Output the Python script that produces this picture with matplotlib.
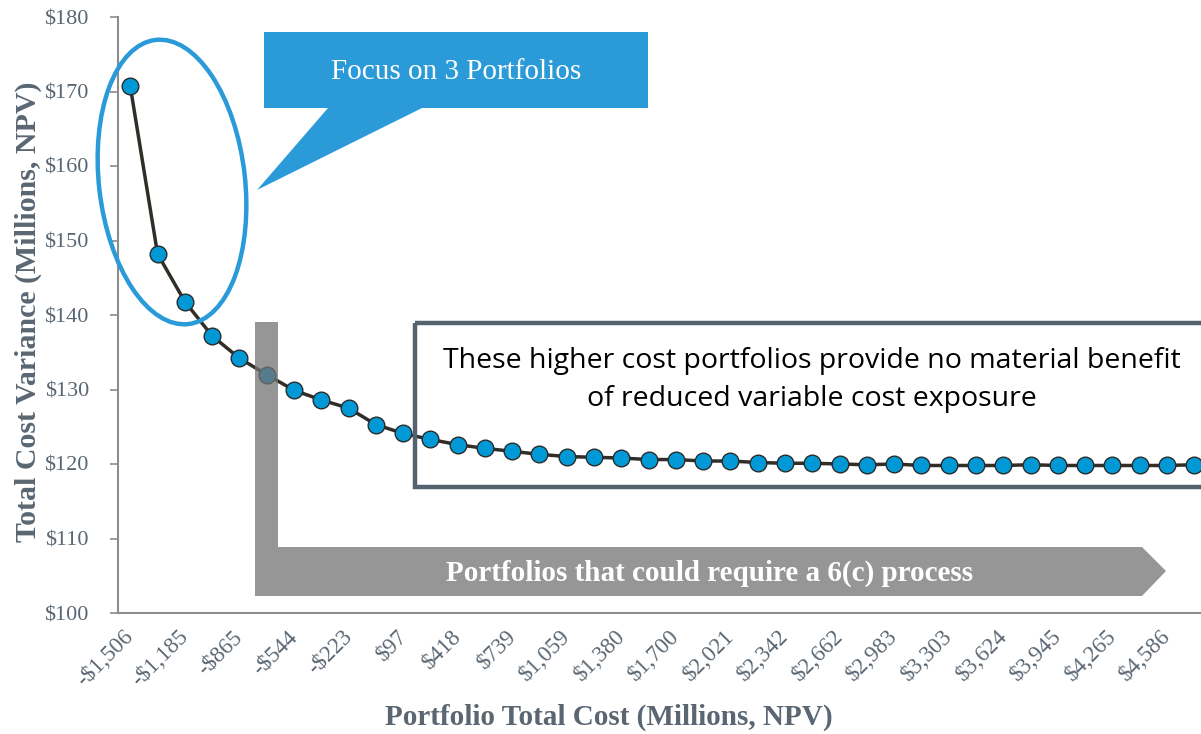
import numpy as np
import matplotlib
matplotlib.use("Agg")
from matplotlib import pyplot as plt
from matplotlib.patches import Polygon, Ellipse, Rectangle

# portfolio total cost (tick labels, every other portfolio)
cost_labels = ["-$1,506", "-$1,185", "-$865", "-$544", "-$223", "$97", "$418", "$739",
               "$1,059", "$1,380", "$1,700", "$2,021", "$2,342", "$2,662", "$2,983",
               "$3,303", "$3,624", "$3,945", "$4,265", "$4,586"]

# total cost variance per portfolio (millions, NPV)
variance = [170.7, 148.2, 141.8, 137.2, 134.2, 132.0, 129.9, 128.6, 127.5, 125.3,
            124.1, 123.3, 122.6, 122.1, 121.7, 121.3, 121.0, 120.9, 120.8, 120.6,
            120.6, 120.4, 120.4, 120.2, 120.1, 120.1, 120.0, 119.9, 120.0, 119.8,
            119.8, 119.8, 119.8, 119.9, 119.8, 119.8, 119.8, 119.8, 119.8, 119.9]

y_ticks = [100, 110, 120, 130, 140, 150, 160, 170, 180]

txt_col = "#5A6773"
serif = "Liberation Serif"

W, H = 1201, 734
fig = plt.figure(figsize=(W / 100, H / 100), dpi=100)
ax = fig.add_axes([118 / W, 1 - 613 / H, 1 - 118 / W, (613 - 17) / H])

x = np.arange(len(variance))
ax.plot(x, variance, color="#332D28", lw=2.5, marker="o", markersize=12,
        markerfacecolor="#0099D6", markeredgecolor="#2B2B2B", markeredgewidth=1.0, zorder=3)

ax.set_xlim(-0.45, 39.25)
ax.set_ylim(100, 180)
ax.set_yticks(y_ticks)
ax.set_yticklabels(["$%d" % v for v in y_ticks], fontsize=16, family=serif, color=txt_col)
ax.set_xticks(x[::2])
ax.set_xticklabels(cost_labels, rotation=45, ha="right", va="center", rotation_mode="anchor",
                   fontsize=16.5, family=serif, color=txt_col)
ax.tick_params(axis="x", length=0, pad=15)
ax.tick_params(axis="y", length=6, color="#8C8C8C", width=1.2, pad=15)
for s in ["top", "right"]:
    ax.spines[s].set_visible(False)
for s in ["left", "bottom"]:
    ax.spines[s].set_color("#8C8C8C")
    ax.spines[s].set_linewidth(1.5)

ax.set_xlabel("Portfolio Total Cost (Millions, NPV)", fontsize=21, family=serif,
              fontweight="bold", color=txt_col)
ax.set_ylabel("Total Cost Variance (Millions, NPV)", fontsize=21.5, family=serif,
              fontweight="bold", color=txt_col)
ax.xaxis.set_label_coords(0.453, -0.152)
ax.yaxis.set_label_coords(-0.07, 0.505)

# annotation layer in pixel coordinates
ov = fig.add_axes([0, 0, 1, 1])
ov.set_xlim(0, W)
ov.set_ylim(H, 0)
ov.axis("off")
ov.patch.set_visible(False)

blue = "#2A9BD8"
ov.add_patch(Ellipse((172, 182), 146, 286, angle=-6.6, fill=False, ec=blue, lw=3.2))
ov.add_patch(Polygon([(264, 32), (648, 32), (648, 108), (422, 108), (257, 190),
                      (328, 108), (264, 108)], closed=True, fc=blue, ec="none"))
ov.text(456, 72, "Focus on 3 Portfolios", color="white", fontsize=21, family=serif,
        ha="center", va="center")

ov.add_patch(Polygon([(255, 322), (278, 322), (278, 547), (1142, 547), (1166, 571),
                      (1142, 596), (255, 596)], closed=True, fc="#737373", ec="none", alpha=0.75))
ov.text(710, 573, "Portfolios that could require a 6(c) process", color="white", fontsize=21,
        family=serif, fontweight="bold", ha="center", va="center")

ov.add_patch(Rectangle((415, 323), 800, 164, fill=False, ec="#546270", lw=3.2))
ov.text(812, 380, "These higher cost portfolios provide no material benefit\nof reduced variable cost exposure",
        color="black", fontsize=20.5, family="Open Sans", ha="center", va="center",
        linespacing=1.45)

fig.savefig("out.png", dpi=100)
